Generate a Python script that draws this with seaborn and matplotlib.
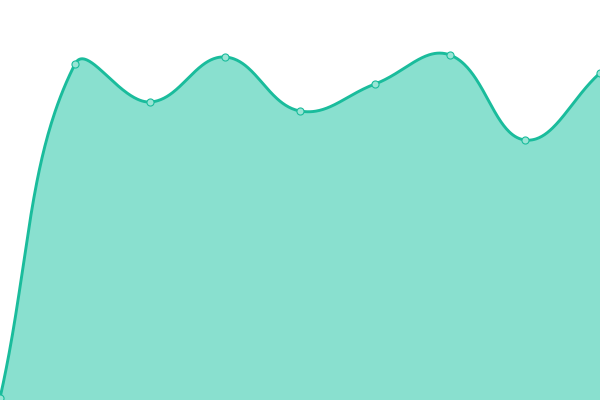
import numpy as np
import pandas as pd
import matplotlib
matplotlib.use("Agg")
import matplotlib.pyplot as plt
import seaborn as sns

# Data
categories = [0, 1, 2, 3, 4, 5, 6, 7, 8]
values = [2, 336, 298, 343, 289, 316, 345, 260, 327]

LINE = "#1abc9c"
FILL = "#89e0cf"
MARK = "#9ae5d5"
XSTEP = 75.0  # pixel spacing used for the spline geometry
TENSION = 0.4


def spline(xs, ys, n=80):
    px = np.array(xs, float) * XSTEP
    py = np.array(ys, float)
    k = len(px)
    cp_prev = np.zeros((k, 2))
    cp_next = np.zeros((k, 2))
    for i in range(k):
        cur = np.array([px[i], py[i]])
        prv = np.array([px[i - 1], py[i - 1]]) if i > 0 else cur
        nxt = np.array([px[i + 1], py[i + 1]]) if i < k - 1 else cur
        d01 = np.hypot(*(cur - prv))
        d12 = np.hypot(*(nxt - cur))
        tot = d01 + d12
        s01 = d01 / tot if tot else 0
        s12 = d12 / tot if tot else 0
        fa, fb = TENSION * s01, TENSION * s12
        cp_prev[i] = cur - fa * (nxt - prv)
        cp_next[i] = cur + fb * (nxt - prv)
    t = np.linspace(0, 1, n)[:, None]
    out = []
    for i in range(k - 1):
        p0 = np.array([px[i], py[i]])
        p3 = np.array([px[i + 1], py[i + 1]])
        c1, c2 = cp_next[i], cp_prev[i + 1]
        b = (1 - t) ** 3 * p0 + 3 * (1 - t) ** 2 * t * c1 + 3 * (1 - t) * t ** 2 * c2 + t ** 3 * p3
        out.append(b if i == 0 else b[1:])
    out = np.vstack(out)
    return out[:, 0] / XSTEP, out[:, 1]


sns.set_theme(style="white")
fig = plt.figure(figsize=(6, 4), dpi=100)
ax = fig.add_axes([0, 0, 1, 1])

cx, cy = spline(categories, values)
curve = pd.DataFrame({"x": cx, "y": cy})
ax.fill_between(cx, cy, 0, color=FILL, linewidth=0, zorder=1)
sns.lineplot(data=curve, x="x", y="y", sort=False, color=LINE, linewidth=2.1, ax=ax, zorder=2)

pts = pd.DataFrame({"x": categories, "y": values})
sns.scatterplot(data=pts, x="x", y="y", s=26, color=MARK, edgecolor=LINE,
                linewidth=0.8, ax=ax, zorder=3, clip_on=True)

ax.set_xlim(0, 8)
ax.set_ylim(0, 400)
ax.axis("off")
fig.savefig("out.png", dpi=100)
